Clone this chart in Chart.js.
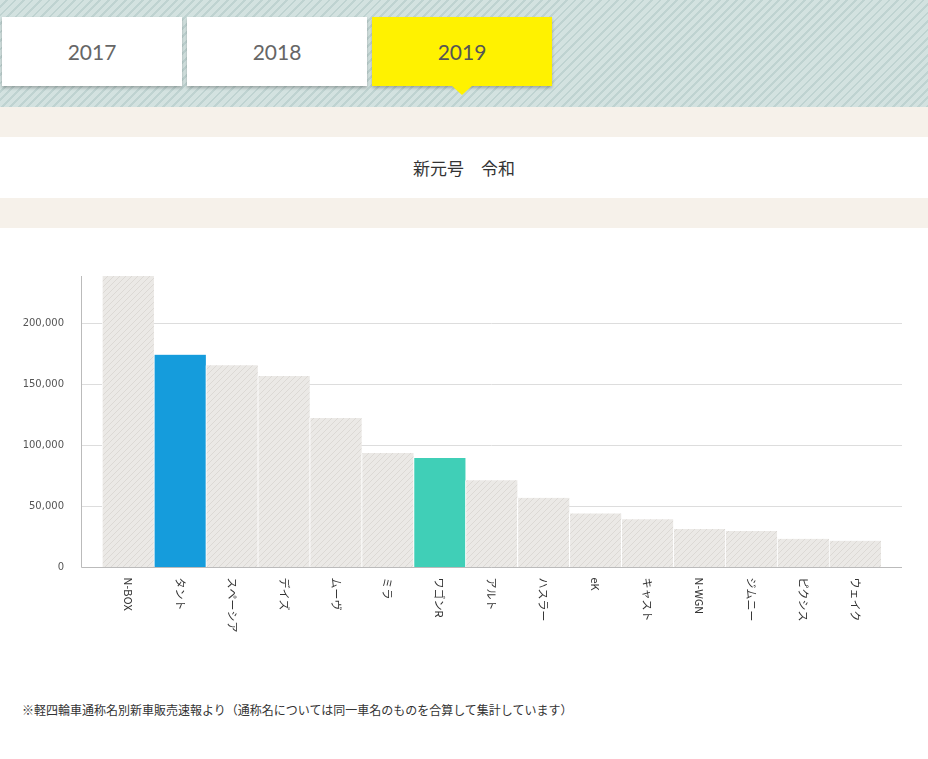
<!DOCTYPE html>
<html>
<head>
<meta charset="utf-8">
<script src="https://cdn.jsdelivr.net/npm/chart.js@4"></script>
<style>
  body { margin: 0; width: 928px; height: 759px; overflow: hidden; background: #fff; font-family: Lato, "Noto Sans CJK JP", sans-serif; }
  .head { position: absolute; left: 0; top: 0; width: 928px; height: 107px;
    background: repeating-linear-gradient(135deg, #d3e2e0 0 4px, #bfd3d1 4px 6px); }
  .tab { position: absolute; top: 17px; width: 180px; height: 69px; background: #fff; color: #666;
    font-size: 21px; text-align: center; line-height: 69px; box-shadow: 0 2px 3px rgba(0,0,0,0.25); }
  .tab.on { background: #fff200; color: #555; }
  .tab.on:after { content: ""; position: absolute; left: 80px; top: 69px; border: 10px solid transparent; border-top: 9px solid #fff200; }
  .band { position: absolute; left: 0; width: 928px; background: #f6f1ea; }
  .title { position: absolute; left: 0; top: 137px; width: 928px; height: 61px; line-height: 61px; text-align: center;
    font-size: 17px; color: #333; font-family: "Noto Sans CJK JP", sans-serif; }
  .note { position: absolute; left: 22px; top: 701px; font-size: 12px; color: #333; font-family: "Noto Sans CJK JP", sans-serif; }
  #wrap { position: absolute; left: 0; top: 240px; width: 928px; height: 420px; }
</style>
</head>
<body>
<div class="head">
  <div class="tab" style="left:2px">2017</div>
  <div class="tab" style="left:187px">2018</div>
  <div class="tab on" style="left:372px">2019</div>
</div>
<div class="band" style="top:107px;height:30px"></div>
<div class="title">新元号　令和</div>
<div class="band" style="top:198px;height:30px"></div>
<div id="wrap"><canvas id="chart"></canvas></div>
<div class="note">※軽四輪車通称名別新車販売速報より（通称名については同一車名のものを合算して集計しています）</div>
<script>
// Data
const cars = ['N-BOX', 'タント', 'スペーシア', 'デイズ', 'ムーヴ', 'ミラ', 'ワゴンR', 'アルト', 'ハスラー', 'eK', 'キャスト', 'N-WGN', 'ジムニー', 'ピクシス', 'ウェイク'];
const sales = [239000, 174400, 165600, 156800, 122400, 93600, 89600, 71200, 56800, 44000, 39200, 31200, 29600, 23200, 21600];
const highlight = { 'タント': '#159cdc', 'ワゴンR': '#40cfb7' };
const yTicks = [0, 50000, 100000, 150000, 200000];

// hatched fill for normal bars
function hatch() {
  const c = document.createElement('canvas');
  c.width = 6; c.height = 6;
  const g = c.getContext('2d');
  g.fillStyle = '#ebe9e6';
  g.fillRect(0, 0, 6, 6);
  g.strokeStyle = '#dcd9d5';
  g.lineWidth = 1;
  g.beginPath();
  g.moveTo(0, 6); g.lineTo(6, 0);
  g.moveTo(-3, 3); g.lineTo(3, -3);
  g.moveTo(3, 9); g.lineTo(9, 3);
  g.stroke();
  return g.createPattern(c, 'repeat');
}

const ext = 21;
const frame = {
  id: 'frame',
  beforeDatasetsDraw(chart) {
    const { ctx, chartArea: a, scales: { y } } = chart;
    ctx.save();
    ctx.strokeStyle = '#dddddd';
    ctx.lineWidth = 1;
    yTicks.forEach(v => {
      if (v === 0) return;
      const py = Math.round(y.getPixelForValue(v)) + 0.5;
      ctx.beginPath(); ctx.moveTo(a.left - ext, py); ctx.lineTo(a.right + ext, py); ctx.stroke();
    });
    ctx.restore();
  },
  afterDatasetsDraw(chart) {
    const { ctx, chartArea: a, scales: { x, y } } = chart;
    ctx.save();
    ctx.strokeStyle = '#bbbbbb';
    ctx.lineWidth = 1;
    const by = Math.round(y.getPixelForValue(0)) + 0.5;
    ctx.beginPath(); ctx.moveTo(a.left - ext + 0.5, a.top); ctx.lineTo(a.left - ext + 0.5, by); ctx.lineTo(a.right + ext, by); ctx.stroke();
    // vertical labels, reading top to bottom
    ctx.fillStyle = '#333';
    ctx.font = '11px "Noto Sans CJK JP", sans-serif';
    ctx.textAlign = 'left';
    ctx.textBaseline = 'middle';
    cars.forEach((c, i) => {
      ctx.save();
      ctx.translate(x.getPixelForValue(i), by + 10);
      ctx.rotate(Math.PI / 2);
      ctx.fillText(c, 0, 0);
      ctx.restore();
    });
    ctx.restore();
  }
};

new Chart(document.getElementById('chart'), {
  type: 'bar',
  data: {
    labels: cars,
    datasets: [{
      data: sales,
      backgroundColor: cars.map(c => highlight[c] || hatch()),
      borderColor: '#ffffff',
      borderWidth: { left: 1, right: 0, top: 0, bottom: 0 },
      barPercentage: 1,
      categoryPercentage: 1
    }]
  },
  options: {
    responsive: true,
    maintainAspectRatio: false,
    animation: false,
    layout: { padding: { top: 28, right: 47, left: 0, bottom: 0 } },
    plugins: { legend: { display: false }, tooltip: { enabled: false } },
    scales: {
      x: {
        grid: { display: false },
        border: { display: false },
        ticks: { display: false },
        afterFit: s => { s.height = 93; }
      },
      y: {
        min: 0,
        max: 239000,
        grid: { display: false },
        border: { display: false },
        afterFit: s => { s.width = 102; },
        afterBuildTicks: s => { s.ticks = yTicks.map(v => ({ value: v })); },
        ticks: {
          padding: 30,
          color: '#555',
          font: { family: 'Verdana, "DejaVu Sans", sans-serif', size: 10 },
          callback: v => v.toLocaleString('en-US')
        }
      }
    }
  },
  plugins: [frame]
});
</script>
</body>
</html>
